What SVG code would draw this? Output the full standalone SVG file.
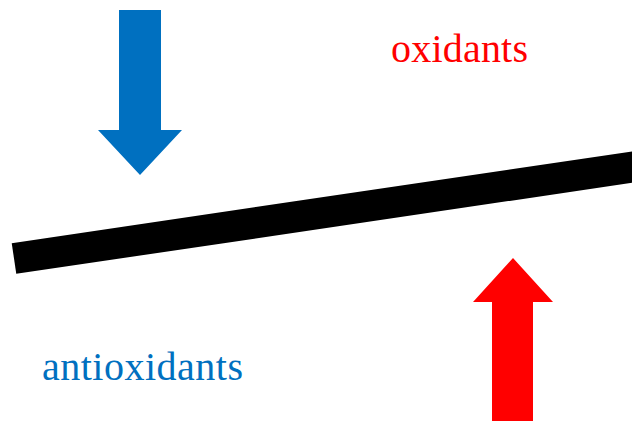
<svg xmlns="http://www.w3.org/2000/svg" width="632" height="421" viewBox="0 0 632 421">
<style>
.lbl{font-family:"Liberation Serif","Times New Roman",serif;font-size:40px}
</style>
<rect width="632" height="421" fill="#fff"/>
<g id="balance-beam">
<line x1="14" y1="258.5" x2="660" y2="163" stroke="#000" stroke-width="31" stroke-linecap="butt"/>
</g>
<g id="antioxidant-arrow">
<polygon points="119,10 161,10 161,130 182,130 140,175 98,130 119,130" fill="#0070C0"/>
</g>
<g id="oxidant-arrow">
<polygon points="492,421 533,421 533,302 553,302 513,258 473,302 492,302" fill="#FF0000"/>
</g>
<g id="oxidants-label">
<text class="lbl" x="391" y="62" fill="#FF0000" textLength="137" lengthAdjust="spacing">oxidants</text>
</g>
<g id="antioxidants-label">
<text class="lbl" x="42" y="380" fill="#0070C0" textLength="201" lengthAdjust="spacing">antioxidants</text>
</g>
</svg>
